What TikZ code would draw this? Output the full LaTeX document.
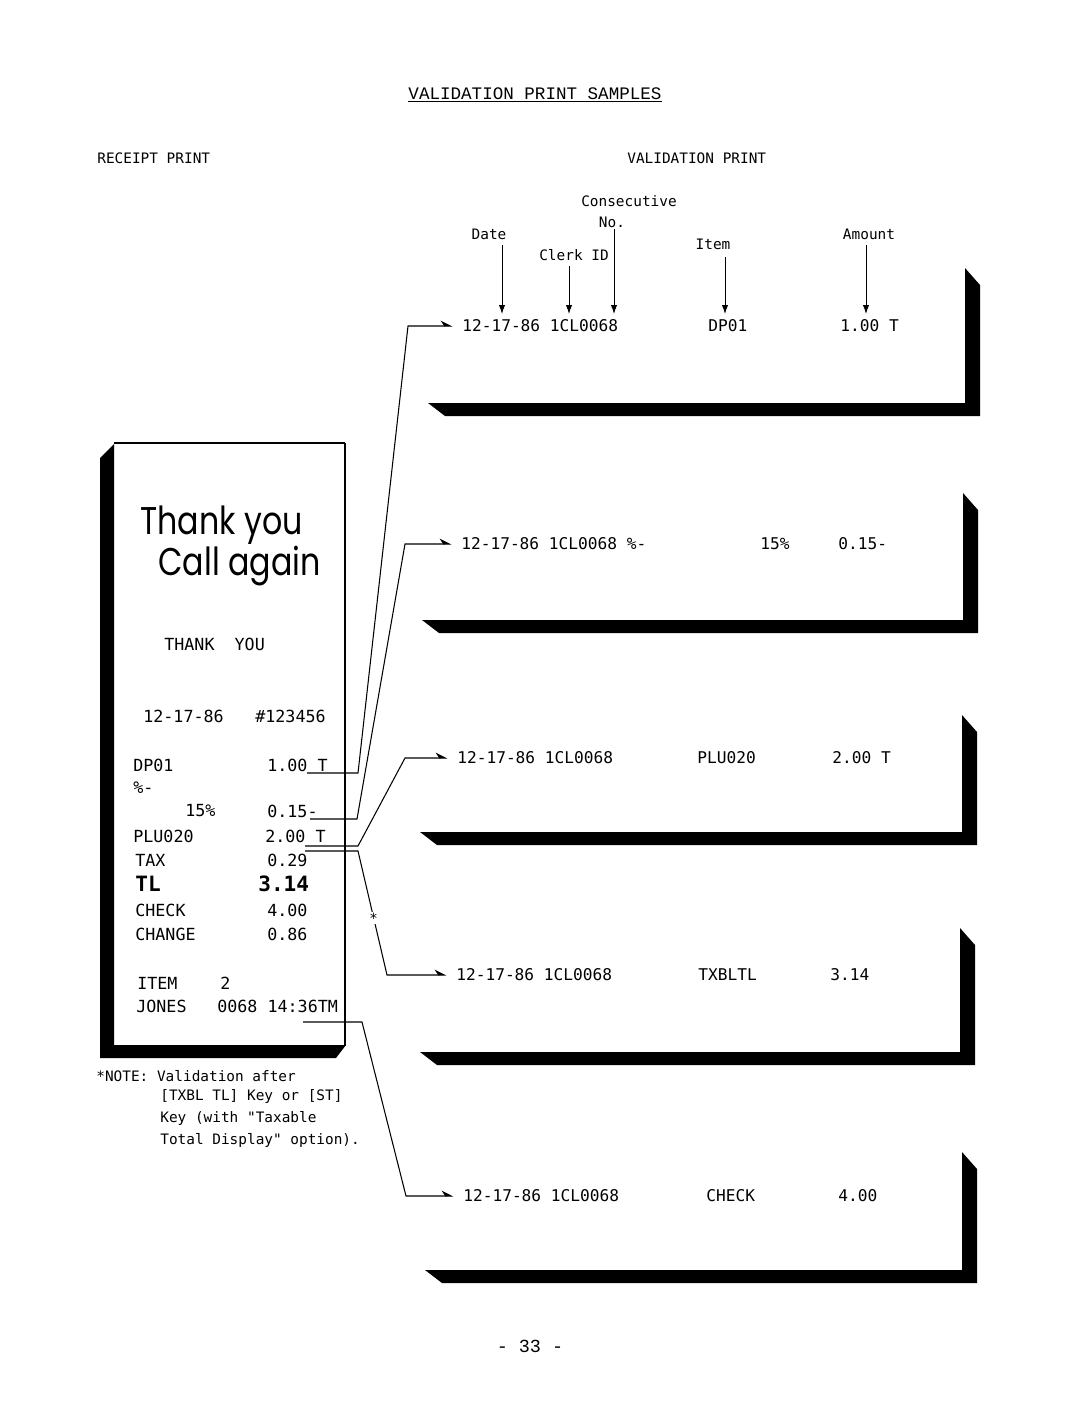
\documentclass[tikz,border=0pt]{standalone}
\usepackage{fontspec}
\setmainfont{Liberation Serif}
\setmonofont{DejaVu Sans Mono}
\newfontfamily\typefont{Liberation Mono}
\newfontfamily\handfont{Poppins}[FakeStretch=0.82]
\usetikzlibrary{arrows.meta,calc}
\newcommand{\rfont}{\ttfamily\fontsize{9.5}{11}\selectfont}

\begin{document}
\begin{tikzpicture}[x=0.02cm,y=-0.02cm,
	lbl/.style={font=\ttfamily\fontsize{8.2}{10}\selectfont,inner sep=0pt},
	vrow/.style={font=\ttfamily\fontsize{9.2}{11}\selectfont,inner sep=0pt,anchor=west},
	rline/.style={font=\rfont,inner sep=0pt,anchor=west},
	feed/.style={line width=0.6pt,-{Stealth[harpoon,length=6pt,width=6pt]},shorten >=5.5pt},
	tick/.style={line width=0.5pt,-{Latex[length=5pt,width=3.5pt]}}]
	\useasboundingbox (0,0) rectangle (1080,1401);

	\node[font=\typefont\fontsize{10}{12}\selectfont,inner sep=0pt] (title) at (535,95) {\underline{VALIDATION PRINT SAMPLES}};
	\node[lbl,anchor=west] (rcpt) at (97,158) {RECEIPT PRINT};
	\node[lbl,anchor=west] (valp) at (627,158) {VALIDATION PRINT};

	% receipt paper
	\fill (100,458) -- (114,444) -- (114,1045) -- (346,1045) -- (336,1058) -- (100,1058) -- cycle;
	\draw[line width=0.9pt] (114,443) -- (345,443);
	\draw[line width=1.6pt] (345,443) -- (345,1046);

	\node[font=\handfont\fontsize{22}{26}\selectfont,inner sep=0pt,anchor=west] (thk) at (140,525) {Thank you};
	\node[font=\handfont\fontsize{22}{26}\selectfont,inner sep=0pt,anchor=west] (cag) at (158,566) {Call again};
	\node[rline] (ty) at (164,644) {THANK\ \ YOU};
	\node[rline] (rdate) at (143,716) {12-17-86};
	\node[rline] (rno) at (255,716) {\#123456};
	\node[rline] (rdp) at (133,765) {DP01};
	\node[rline] (rdpa) at (267,765) {1.00 T};
	\node[rline] (rpc) at (133,788) {\%-};
	\node[rline] (rpct) at (185,811) {15\%};
	\node[rline] (rpca) at (267,811) {0.15-};
	\node[rline] (rplu) at (133,836) {PLU020};
	\node[rline] (rplua) at (265,836) {2.00 T};
	\node[rline] (rtax) at (135,860) {TAX};
	\node[rline] (rtaxa) at (267,860) {0.29};
	\node[rline,font=\ttfamily\bfseries\fontsize{12}{14}\selectfont] (rtl) at (135,884) {TL};
	\node[rline,font=\ttfamily\bfseries\fontsize{12}{14}\selectfont] (rtla) at (258,884) {3.14};
	\node[rline] (rchk) at (135,910) {CHECK};
	\node[rline] (rchka) at (267,910) {4.00};
	\node[rline] (rchg) at (135,934) {CHANGE};
	\node[rline] (rchga) at (267,934) {0.86};
	\node[rline] (ritm) at (137,983) {ITEM};
	\node[rline] (ritmn) at (220,983) {2};
	\node[rline] (rjon) at (136,1006) {JONES};
	\node[rline] (rjont) at (217,1006) {0068 14:36TM};

	\node[lbl,anchor=west] (note1) at (96,1076) {*NOTE: Validation after};
	\node[lbl,anchor=west] (note2) at (160,1097) {[TXBL TL] Key or [ST]};
	\node[lbl,anchor=west] (note3) at (160,1118) {Key (with "Taxable};
	\node[lbl,anchor=west] (note4) at (160,1140) {Total Display" option).};

	% validation slips
	\foreach \lx/\ty/\by/\rx in {428/268/403/965, 422/493/620/963, 420/715/832/962, 420/928/1052/960, 425/1152/1270/962}
		\fill (\lx,\by) -- (\rx,\by) -- (\rx,\ty) -- (\rx+15,\ty+17) -- (\rx+15,\by+13) -- (\lx+17,\by+13) -- cycle;

	\node[vrow] (d1) at (462,326) {12-17-86 1CL0068};
	\node[vrow] (it1) at (708,326) {DP01};
	\node[vrow] (am1) at (840,326) {1.00 T};
	\node[vrow] (d2) at (461,544) {12-17-86 1CL0068 \%-};
	\node[vrow] (it2) at (760,544) {15\%};
	\node[vrow] (am2) at (838,544) {0.15-};
	\node[vrow] (d3) at (457,758) {12-17-86 1CL0068};
	\node[vrow] (it3) at (697,758) {PLU020};
	\node[vrow] (am3) at (832,758) {2.00 T};
	\node[vrow] (d4) at (456,975) {12-17-86 1CL0068};
	\node[vrow] (it4) at (698,975) {TXBLTL};
	\node[vrow] (am4) at (830,975) {3.14};
	\node[vrow] (d5) at (463,1196) {12-17-86 1CL0068};
	\node[vrow] (it5) at (706,1196) {CHECK};
	\node[vrow] (am5) at (838,1196) {4.00};

	% field labels
	\node[lbl] (lcons) at (629,201) {Consecutive};
	\node[lbl] (lno) at (612,222) {No.};
	\node[lbl] (ldate) at (489,234) {Date};
	\node[lbl] (lclerk) at (574,255) {Clerk ID};
	\node[lbl] (litem) at (713,244) {Item};
	\node[lbl] (lamt) at (869,234) {Amount};
	\coordinate (tdate) at (502,314);
	\coordinate (tclerk) at (569,314);
	\coordinate (tcons) at (614,314);
	\coordinate (titem) at (725,314);
	\coordinate (tamt) at (866,314);
	\draw[tick,shorten <=3pt] (tdate |- ldate.south) -- (tdate);
	\draw[tick,shorten <=3pt] (tclerk |- lclerk.south) -- (tclerk);
	\draw[tick,shorten <=1pt] (tcons |- lno.south) -- (tcons);
	\draw[tick,shorten <=4pt] (titem |- litem.south) -- (titem);
	\draw[tick,shorten <=3pt] (tamt |- lamt.south) -- (tamt);

	% receipt lines to validation slips
	\coordinate (s1) at (307,773); \coordinate (e1) at (358,773); \coordinate (k1) at (408,326);
	\coordinate (s2) at (310,819); \coordinate (e2) at (357,819); \coordinate (k2) at (405,544);
	\coordinate (s3) at (305,846); \coordinate (e3) at (358,846); \coordinate (k3) at (405,758);
	\coordinate (s4) at (305,851); \coordinate (e4) at (358,851); \coordinate (k4) at (387,975);
	\coordinate (s5) at (303,1022); \coordinate (e5) at (362,1022); \coordinate (k5) at (406,1196);
	\draw[feed] (s1) -- (e1) -- (k1 |- d1.west) -- (d1.west);
	\draw[feed] (s2) -- (e2) -- (k2 |- d2.west) -- (d2.west);
	\draw[feed] (s3) -- (e3) -- (k3 |- d3.west) -- (d3.west);
	\draw[feed] (s4) -- (e4) -- node[pos=0.54,fill=white,inner sep=0.5pt,font=\ttfamily\fontsize{8}{9}\selectfont] (star) {*} (k4 |- d4.west) -- (d4.west);
	\draw[feed] (s5) -- (e5) -- (k5 |- d5.west) -- (d5.west);

	\node[font=\typefont\fontsize{10.5}{12}\selectfont,inner sep=0pt] (page) at (530,1346) {- 33 -};
\end{tikzpicture}
\end{document}
